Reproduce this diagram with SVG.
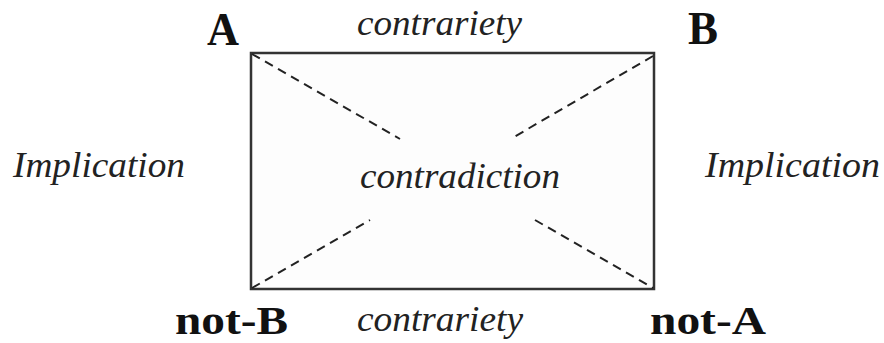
<svg xmlns="http://www.w3.org/2000/svg" width="884" height="343" viewBox="0 0 884 343">
  <style>
    .bold { font-family: "Liberation Serif", "Times New Roman", serif; font-weight: bold; font-size: 46px; fill: #111; }
    .small { font-size: 40px; }
    .ital { font-family: "Liberation Serif", "Times New Roman", serif; font-style: italic; font-size: 36px; fill: #222; }
    .dash { stroke: #222; stroke-width: 2; stroke-dasharray: 9 6; fill: none; }
  </style>
  <rect width="884" height="343" fill="#ffffff"/>
  <g id="square">
    <rect x="251" y="53" width="403" height="236" fill="#fdfdfd" stroke="#333" stroke-width="2.5"/>
  </g>
  <g id="connectors">
    <line class="dash" x1="252" y1="54" x2="400" y2="139"/>
    <line class="dash" x1="653" y1="56" x2="514" y2="137"/>
    <line class="dash" x1="252" y1="288" x2="370" y2="220"/>
    <line class="dash" x1="535" y1="220" x2="653" y2="288"/>
  </g>
  <g id="node-A"><text class="bold" x="207" y="45" textLength="32" lengthAdjust="spacingAndGlyphs">A</text></g>
  <g id="node-B"><text class="bold" x="688" y="44" textLength="30" lengthAdjust="spacingAndGlyphs">B</text></g>
  <g id="node-notB"><text class="bold small" x="175" y="334" textLength="113" lengthAdjust="spacingAndGlyphs">not-B</text></g>
  <g id="node-notA"><text class="bold small" x="650" y="334" textLength="116" lengthAdjust="spacingAndGlyphs">not-A</text></g>
  <g id="labels">
    <text class="ital" x="357" y="35" textLength="165" lengthAdjust="spacingAndGlyphs">contrariety</text>
    <text class="ital" x="357" y="331" textLength="166" lengthAdjust="spacingAndGlyphs">contrariety</text>
    <text class="ital" x="360" y="188" textLength="200" lengthAdjust="spacingAndGlyphs">contradiction</text>
    <text class="ital" x="13" y="177" textLength="172" lengthAdjust="spacingAndGlyphs">Implication</text>
    <text class="ital" x="705" y="177" textLength="175" lengthAdjust="spacingAndGlyphs">Implication</text>
  </g>
</svg>
